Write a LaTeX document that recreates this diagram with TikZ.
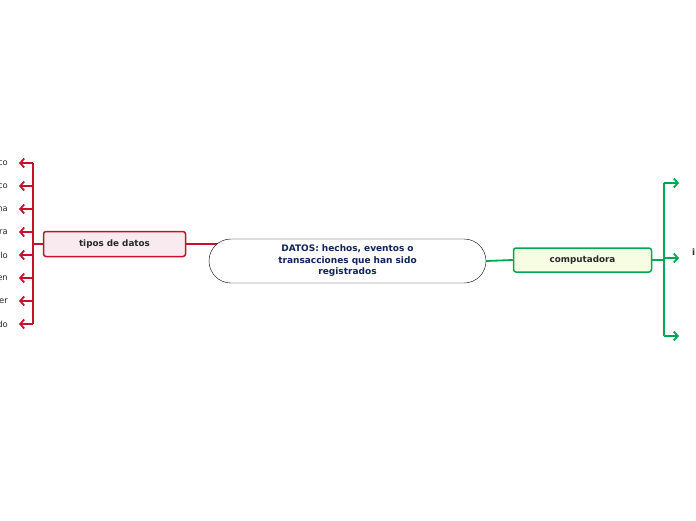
\documentclass[tikz,border=0pt]{standalone}
\usepackage{fontspec}
\setmainfont{DejaVu Sans}
\usepackage{tikz}
\usetikzlibrary{arrows.meta, positioning, backgrounds}
\usepackage{xcolor}
\definecolor{rojo}{RGB}{200,16,46}
\definecolor{rosa}{RGB}{249,234,239}
\definecolor{verde}{RGB}{0,166,81}
\definecolor{crema}{RGB}{248,252,226}
\definecolor{marino}{RGB}{16,36,90}
\definecolor{gris}{RGB}{40,40,40}
\tikzset{
  central/.style={rectangle, draw=black, fill=white, rounded corners=22pt,
                  minimum width=277pt, minimum height=44pt, text width=180pt,
                  align=center, font=\fontsize{9}{11.5}\selectfont\bfseries, text=marino},
  ramaroja/.style={rectangle, draw=rojo, fill=rosa, rounded corners=2.5pt, line width=1.5pt,
                   minimum width=142pt, minimum height=25pt,
                   font=\fontsize{8.8}{10}\selectfont\bfseries, text=gris},
  ramaverde/.style={rectangle, draw=verde, fill=crema, rounded corners=2.5pt, line width=1.5pt,
                    minimum width=138pt, minimum height=24pt,
                    font=\fontsize{8.8}{10}\selectfont\bfseries, text=gris},
  hoja/.style={font=\fontsize{8.4}{10}\selectfont, text=gris, inner sep=0pt},
  flecha/.style={-{Straight Barb[length=4pt, width=9pt]}, line width=1.8pt}
}

\begin{document}
\begin{tikzpicture}[x=1pt, y=-1pt]
    \useasboundingbox (0,0) rectangle (696,520);
    \node[central] (centro) at (347.5,261)
      {DATOS: hechos, eventos o\\transacciones que han sido\\registrados};
    \node[ramaroja] (tipos) at (114.5,244) {tipos de datos};
    \node[ramaverde] (compu) at (582.5,260) {computadora};
    % rama izquierda
    \coordinate (izq) at (33,244);
    \foreach \t [count=\i from 0] in {co, co, na, ra, lo, en, er, do} {
      \coordinate (b\i) at (33,163+23*\i);
      \coordinate (p\i) at (19,163+23*\i);
      \node[hoja, anchor=east, left=11pt of p\i] (h\i) {\t};
      \draw[flecha, rojo] (b\i) -- (p\i);
    }
    \draw[rojo, line width=1.8pt] (b0) -- (b7);
    \draw[rojo, line width=1.8pt] (tipos.west) -- (izq);
    % rama derecha
    \coordinate (der) at (664,260);
    \coordinate (a1) at (664,183);
    \coordinate (a2) at (664,258);
    \coordinate (a3) at (664,336);
    \coordinate (d1) at (679,183);
    \coordinate (d2) at (679,258);
    \coordinate (d3) at (679,336);
    \node[hoja, font=\fontsize{8.8}{10}\selectfont\bfseries, anchor=west] (info) at (692,252) {i};
    \draw[verde, line width=1.8pt] (a1) -- (a3);
    \foreach \k in {1,2,3}
      \draw[flecha, verde] (a\k) -- (d\k);
    \draw[verde, line width=1.8pt] (compu.east) -- (der);
    % conectores centrales
    \begin{scope}[on background layer]
      \draw[rojo, line width=1.8pt] (tipos.east) -- (tipos.east -| centro.center);
    \end{scope}
    \draw[verde, line width=1.8pt] (centro.east) -- (compu.west);
\end{tikzpicture}
\end{document}
